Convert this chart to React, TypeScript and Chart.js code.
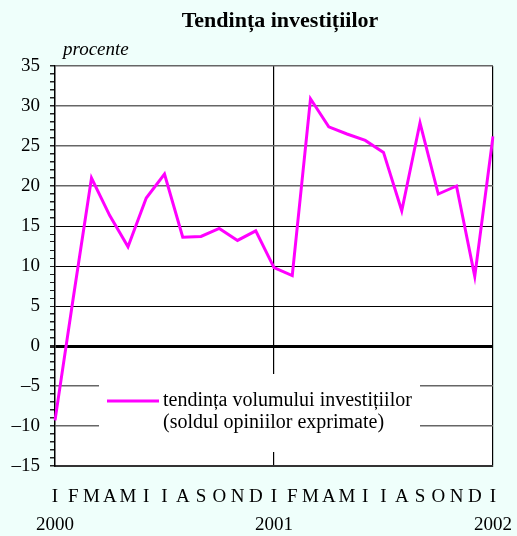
import React, { useEffect, useRef } from 'react';
import { Chart, registerables } from 'chart.js';

Chart.register(...registerables);

const monthLabels = ['I', 'F', 'M', 'A', 'M', 'I', 'I', 'A', 'S', 'O', 'N', 'D', 'I', 'F', 'M', 'A', 'M', 'I', 'I', 'A', 'S', 'O', 'N', 'D', 'I'];
const yearLabels = ['2000', '2001', '2002'];
const investmentTrend = [-9.3, 6.0, 21.0, 16.3, 12.4, 18.5, 21.5, 13.6, 13.7, 14.7, 13.2, 14.4, 9.8, 8.8, 30.9, 27.4, 26.5, 25.7, 24.2, 16.9, 27.9, 19.0, 20.0, 8.7, 26.2];
const yMin = -15;
const yMax = 35;
const titleText = 'Tendința investițiilor';
const unitText = 'procente';
const legendLines = ['tendința volumului investițiilor', '(soldul opiniilor exprimate)'];

const FONT = '"Liberation Serif", "Times New Roman", serif';
const BG = '#effffb';
const LINE = '#ff00ff';

const fmt = (v: number) => (v < 0 ? '\u2013' + Math.abs(v) : String(v));

export default function App() {
  const ref = useRef<HTMLCanvasElement | null>(null);

  useEffect(() => {
    document.body.style.margin = '0';
    document.body.style.background = BG;
    const canvas = ref.current!;
    const bgPlugin = {
      id: 'bgPlugin',
      beforeDraw(chart: any) {
        const { ctx, chartArea } = chart;
        ctx.save();
        ctx.fillStyle = BG;
        ctx.fillRect(0, 0, chart.width, chart.height);
        ctx.fillStyle = '#ffffff';
        ctx.fillRect(chartArea.left, chartArea.top, chartArea.right - chartArea.left, chartArea.bottom - chartArea.top);
        ctx.restore();
      },
    };
    const textPlugin = {
      id: 'textPlugin',
      afterDatasetsDraw(chart: any) {
        const { ctx, chartArea } = chart;
        const { left, top } = chartArea;
        ctx.save();
        // legend box
        ctx.fillStyle = '#ffffff';
        ctx.fillRect(left + 44, top + 308, 321, 78);
        ctx.strokeStyle = LINE;
        ctx.lineWidth = 3;
        ctx.beginPath();
        ctx.moveTo(left + 52, top + 335);
        ctx.lineTo(left + 104, top + 335);
        ctx.stroke();
        ctx.fillStyle = '#000';
        ctx.font = `20px ${FONT}`;
        ctx.textAlign = 'left';
        ctx.textBaseline = 'middle';
        ctx.fillText(legendLines[0], left + 108, top + 335);
        ctx.fillText(legendLines[1], left + 108, top + 357);
        // title
        ctx.font = `bold 22px ${FONT}`;
        ctx.textAlign = 'center';
        ctx.textBaseline = 'alphabetic';
        ctx.fillText(titleText, 280, 27);
        ctx.font = `italic 19px ${FONT}`;
        ctx.textAlign = 'left';
        ctx.fillText(unitText, 63, 55);
        ctx.restore();
      },
    };

    const chart = new Chart(canvas, {
      type: 'line',
      data: {
        labels: monthLabels,
        datasets: [
          {
            data: investmentTrend,
            borderColor: LINE,
            borderWidth: 3,
            pointRadius: 0,
            tension: 0,
            fill: false,
          },
        ],
      },
      options: {
        animation: false,
        responsive: false,
        devicePixelRatio: 1,
        layout: { padding: { top: 66, right: 24, left: 0, bottom: 0 } },
        plugins: { legend: { display: false }, title: { display: false }, tooltip: { enabled: false } },
        scales: {
          x: {
            type: 'category',
            offset: false,
            grid: {
              color: (c: any) => (c.index === 12 || c.index === 24 ? '#000' : 'transparent'),
              lineWidth: 1.2,
              drawTicks: false,
            },
            border: { color: '#333', width: 2 },
            ticks: {
              autoSkip: false,
              maxRotation: 0,
              minRotation: 0,
              padding: 17,
              color: '#000',
              font: { family: FONT, size: 19, lineHeight: 1.47 },
              callback: (_v: any, i: number) => [monthLabels[i], i % 12 === 0 ? yearLabels[i / 12] : ''],
            },
            afterFit: (s: any) => {
              s.height = 70;
              s.paddingLeft = 0;
              s.paddingRight = 0;
            },
          },
          y: {
            min: yMin,
            max: yMax,
            afterFit: (s: any) => {
              s.width = 55;
            },
            ticks: {
              stepSize: 1,
              autoSkip: false,
              maxTicksLimit: 100,
              padding: 10,
              color: '#000',
              font: { family: FONT, size: 19 },
              callback: (v: any) => (Number(v) % 5 === 0 ? fmt(Number(v)) : ''),
            },
            grid: {
              color: (c: any) => {
                const v = c.tick ? c.tick.value : 1;
                if (v === 0) return '#000';
                if (v >= 5 && v <= 15 && v % 5 === 0) return '#000';
                if (v % 5 === 0) return '#666';
                return 'transparent';
              },
              lineWidth: (c: any) => {
                const v = c.tick ? c.tick.value : 1;
                if (v === 0) return 3;
                if (v >= 5 && v <= 15) return 1;
                return 1.5;
              },
              tickColor: '#222',
              tickLength: 5,
            },
            border: { color: '#000', width: 1.5 },
          },
        },
      },
      plugins: [bgPlugin, textPlugin],
    } as any);
    return () => chart.destroy();
  }, []);

  return (
    <div style={{ position: 'absolute', left: 0, top: 0, width: 517, height: 536 }}>
      <canvas ref={ref} width={517} height={536} style={{ width: 517, height: 536, display: 'block' }} />
    </div>
  );
}
